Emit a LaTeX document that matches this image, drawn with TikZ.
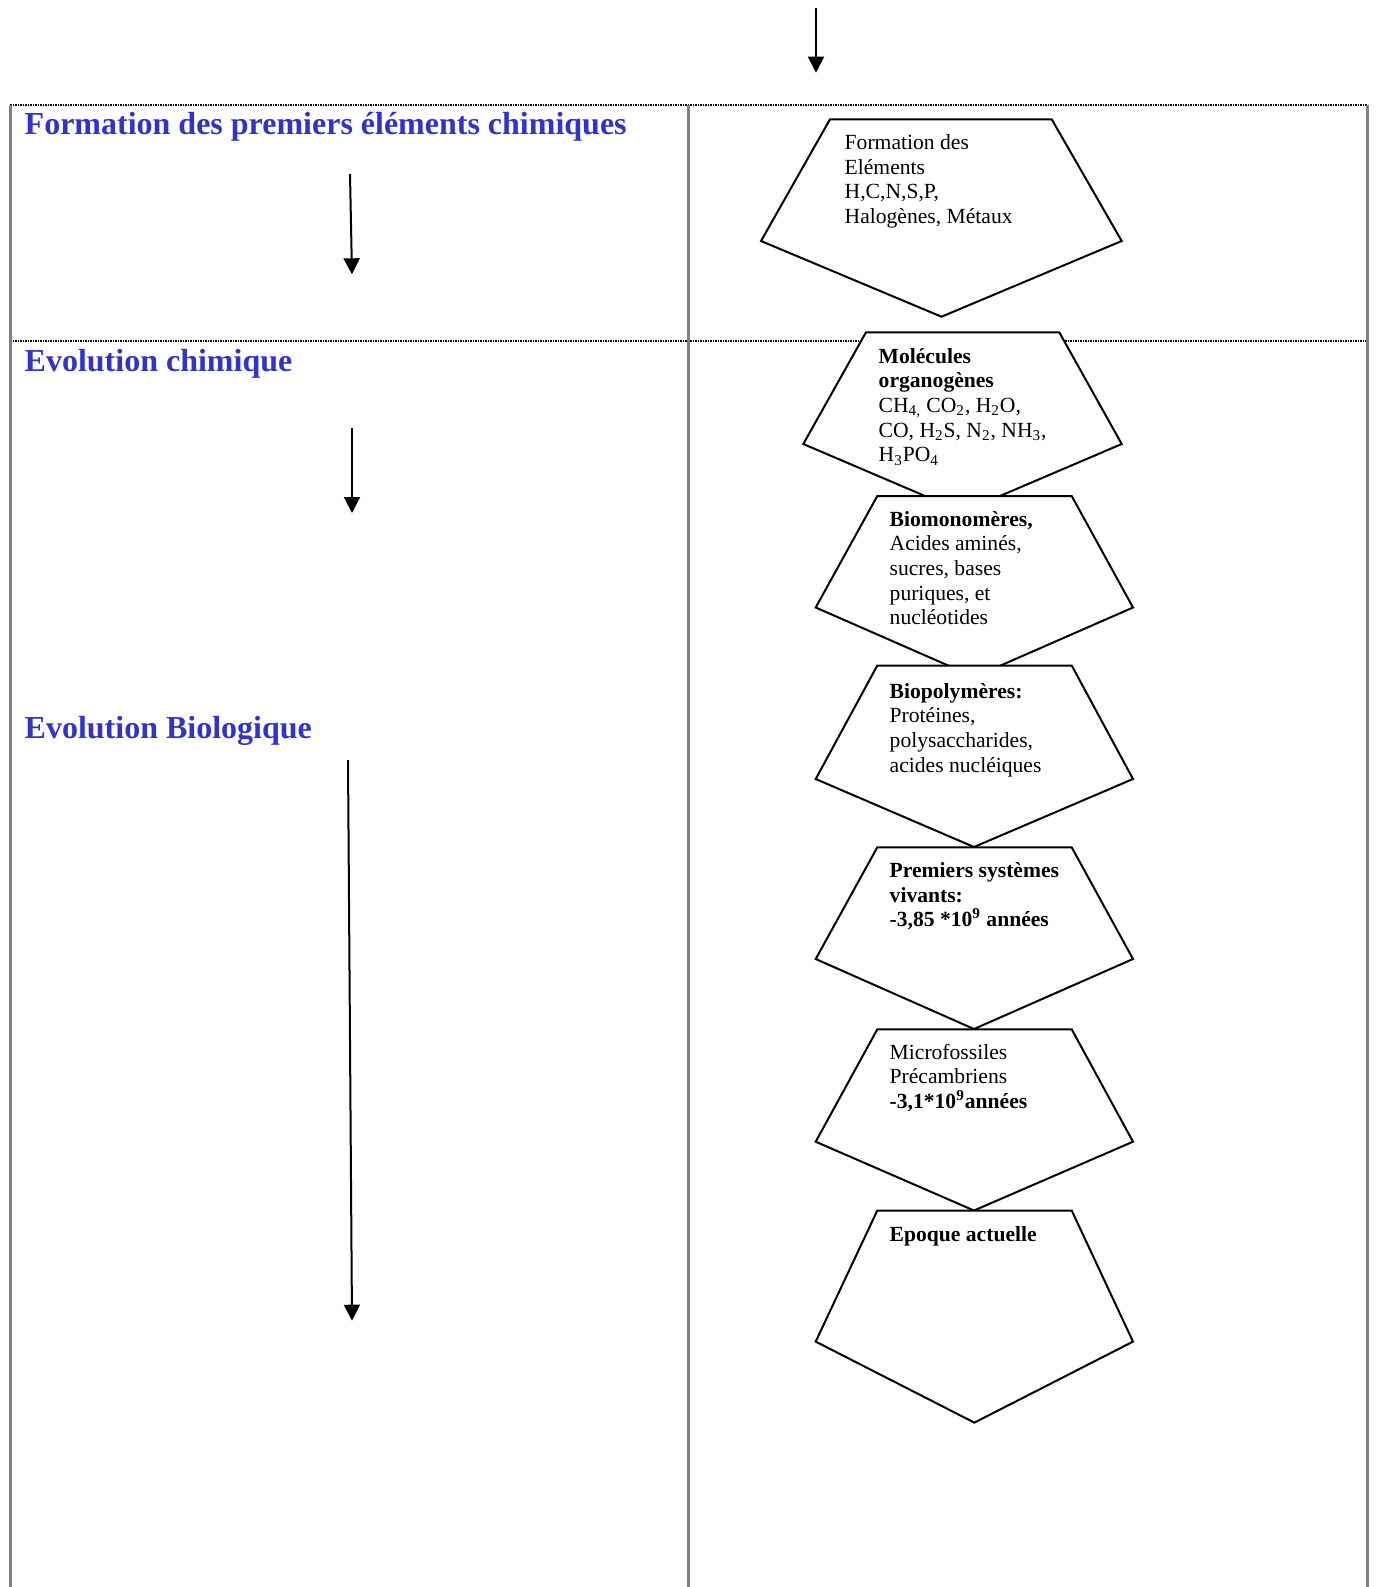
\documentclass[tikz,border=0pt]{standalone}
\usepackage{fontspec}
\setmainfont{Liberation Serif}
\usetikzlibrary{arrows.meta}
\definecolor{titleblue}{RGB}{51,51,204}
\definecolor{tablegray}{RGB}{128,128,128}
\begin{document}
\begin{tikzpicture}[x=0.5pt,y=-0.5pt,
  cell/.style={line width=1.5pt, draw=tablegray},
  rowline/.style={line width=1pt, draw=black, dash pattern=on 1pt off 0.5pt on 0.5pt off 0.5pt},
  pent/.style={draw=black, fill=white, line width=1pt, line join=miter},
  arr/.style={line width=1pt, draw=black, -{Triangle[length=8pt,width=8pt]}},
  title/.style={anchor=base west, inner sep=0pt, text=titleblue, font=\fontsize{16}{19}\selectfont\bfseries},
  ptext/.style={anchor=base west, inner sep=0pt, align=left, font=\fontsize{10.8}{12.35}\selectfont}]
\fill[white] (0,0) rectangle (1376,1587);
\useasboundingbox (0,0) rectangle (1376,1587);

% table
\draw[rowline] (10,105) -- (1367,105);
\draw[rowline] (10,340.5) -- (1367,340.5);
\draw[cell] (10,105) -- (10,1587);
\draw[cell] (688,105) -- (688,1587);
\draw[cell] (1367,105) -- (1367,1587);

% titles
\node[title] (h1) at (24.3,134.6) {Formation des premiers éléments chimiques};
\node[title] (h2) at (24.3,371) {Evolution chimique};
\node[title] (h3) at (24.3,738.6) {Evolution Biologique};

% arrows
\coordinate (a0s) at (816,7.5);   \coordinate (a0e) at (816,72.7);
\coordinate (a1s) at (350,174);   \coordinate (a1e) at (352,274.3);
\coordinate (a2s) at (352,428);   \coordinate (a2e) at (352,513);
\coordinate (a3s) at (348,760);   \coordinate (a3e) at (352,1320.7);
\draw[arr] (a0s) -- (a0e);
\draw[arr] (a1s) -- (a1e);
\draw[arr] (a2s) -- (a2e);
\draw[arr] (a3s) -- (a3e);

% pentagons
\draw[pent] (761,241) -- (830,119.3) -- (1051.7,119.3) -- (1121.7,241) -- (941.5,316.7) -- cycle;
\draw[pent] (803.3,444) -- (866,332.3) -- (1059.3,332.3) -- (1121.7,444) -- (962.5,512) -- cycle;
\draw[pent] (815.7,607.5) -- (877.3,496) -- (1071.7,496) -- (1133,607.5) -- (974.4,677) -- cycle;
\draw[pent] (815.7,779) -- (877.3,665.5) -- (1071.7,665.5) -- (1133,779) -- (974,847) -- cycle;
\draw[pent] (815.7,959) -- (877.3,847.3) -- (1071.7,847.3) -- (1133,959) -- (974,1029) -- cycle;
\draw[pent] (815.7,1141.7) -- (877.3,1029.3) -- (1071.7,1029.3) -- (1133,1141.7) -- (974,1210.5) -- cycle;
\draw[pent] (815.7,1341.6) -- (877.3,1210.5) -- (1071.7,1210.5) -- (1133,1341.6) -- (974.4,1422.6) -- cycle;

% pentagon texts (anchor = baseline of last line)
\node[ptext] (t1) at (844.3,223.4) {Formation des\\Eléments\\H,C,N,S,P,\\Halogènes, Métaux};
\node[ptext] (t2) at (878.3,461.8) {\textbf{Molécules}\\\textbf{organogènes}\\CH\textsubscript{4,} CO\textsubscript{2}, H\textsubscript{2}O,\\CO, H\textsubscript{2}S, N\textsubscript{2}, NH\textsubscript{3},\\H\textsubscript{3}PO\textsubscript{4}};
\node[ptext] (t3) at (889.3,624.8) {\textbf{Biomonomères,}\\Acides aminés,\\sucres, bases\\puriques, et\\nucléotides};
\node[ptext] (t4) at (889.3,772.1) {\textbf{Biopolymères:}\\Protéines,\\polysaccharides,\\acides nucléiques};
\node[ptext] (t5) at (889.3,926.7) {\textbf{Premiers systèmes}\\\textbf{vivants:}\\\textbf{-3,85 *10\textsuperscript{9} années}};
\node[ptext] (t6) at (889.3,1108.4) {Microfossiles\\Précambriens\\\textbf{-3,1*10\textsuperscript{9}années}};
\node[ptext] (t7) at (889.3,1241.5) {\textbf{Epoque actuelle}};
\end{tikzpicture}
\end{document}
